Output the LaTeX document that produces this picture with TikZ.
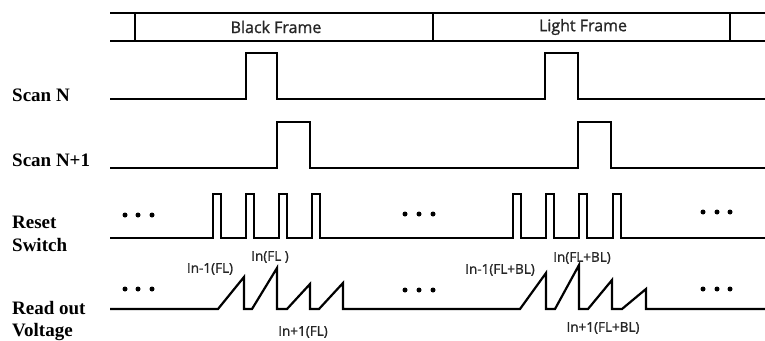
\documentclass[tikz,border=0pt]{standalone}
\usepackage{fontspec}
\setmainfont{Liberation Serif}
\newfontfamily\framefont[FakeBold=1.2]{Open Sans}
\begin{document}
\begin{tikzpicture}[x=1pt,y=-1pt,
    wave/.style={line width=2.2pt, line join=miter},
    signame/.style={font=\fontsize{19}{22.5}\selectfont\bfseries, anchor=west, align=left, inner sep=0pt},
    framename/.style={font=\framefont\fontsize{16}{18}\selectfont, text=black!85},
    levname/.style={font=\framefont\fontsize{13.5}{15}\selectfont, text=black!85, inner sep=0pt},
    dot/.style={circle, fill=black, inner sep=0pt, minimum size=5pt}]
    \useasboundingbox (0,0) rectangle (765,340);
    % frame bar
    \draw [wave] (110,13) -- (765,13);
    \draw [wave] (110,41) -- (765,41);
    \foreach \x in {135,433,730}
        \draw [wave] (\x,13) -- (\x,41);
    \node [framename] (black) at (276,27) {Black Frame};
    \node [framename] (light) at (583,27) {Light Frame};
    % signal names
    \node [signame] (scann) at (12,95) {Scan N};
    \node [signame] (scannp) at (12,160) {Scan N+1};
    \node [signame] (reset) at (12,234) {Reset\\Switch};
    \node [signame] (readout) at (12,321) {Read out\\Voltage};
    % scan lines
    \draw [wave] (110,99) -- (246,99) -- (246,53) -- (277,53) -- (277,99)
        -- (545,99) -- (545,53) -- (578,53) -- (578,99) -- (765,99);
    \draw [wave] (110,168) -- (277,168) -- (277,122) -- (310,122) -- (310,168)
        -- (578,168) -- (578,122) -- (611,122) -- (611,168) -- (765,168);
    % reset switch
    \draw [wave] (110,238)
        foreach \a in {213,246,279,312,513,546,579,613}
        { -- (\a,238) -- (\a,194) -- ({\a+8},194) -- ({\a+8},238) }
        -- (765,238);
    % read out voltage
    \draw [wave] (110,309) -- (218,309) -- (244,277) -- (244,309) -- (252,309)
        -- (277,268) -- (277,309) -- (287,309) -- (310,284) -- (310,309)
        -- (319,309) -- (343,283) -- (343,309) -- (520,309) -- (546,273)
        -- (546,309) -- (555,309) -- (579,265) -- (579,309) -- (588,309)
        -- (612,280) -- (612,309) -- (622,309) -- (646,289) -- (646,309)
        -- (765,309);
    \node [levname] (lvla) at (210,269) {In-1(FL)};
    \node [levname] (lvlb) at (270,257) {In(FL )};
    \node [levname] (lvlc) at (303,332) {In+1(FL)};
    \node [levname] (lvld) at (500,270) {In-1(FL+BL)};
    \node [levname] (lvle) at (582,258) {In(FL+BL)};
    \node [levname] (lvlf) at (603,328) {In+1(FL+BL)};
    % dots
    \foreach \x/\y in {125/215,138/215,152/215,405/214,419/214,433/214,703/212,717/212,730/212,
                       125/289,138/289,152/289,405/290,419/290,433/290,703/289,717/289,730/289}
        \node [dot] at (\x,\y) {};
\end{tikzpicture}
\end{document}
